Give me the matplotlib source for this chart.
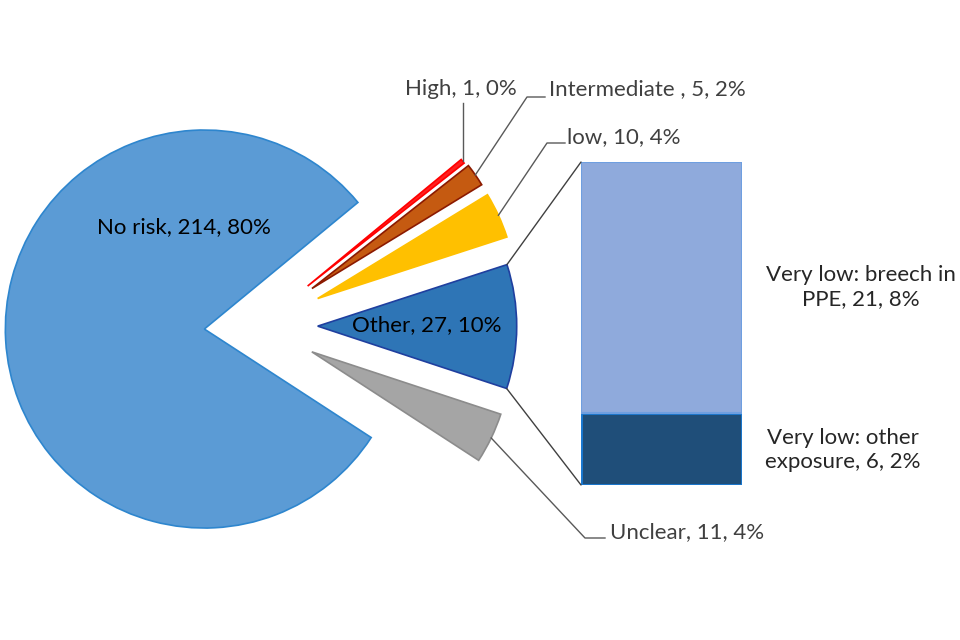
import textwrap

import matplotlib
matplotlib.use("Agg")
import matplotlib.pyplot as plt
import numpy as np
from matplotlib.patches import ConnectionPatch

plt.rcParams['font.family'] = ['Lato', 'DejaVu Sans']

# Data, in the pie's clockwise order
categories = ["High", "Intermediate ", "low", "Other", "Unclear", "No risk"]
counts = [1, 5, 10, 27, 11, 214]
bar_categories = ["Very low: breech in PPE", "Very low: other exposure"]
bar_counts = [21, 6]

colors = ['#FF2020', '#C55A11', '#FFC000', '#2E75B6', '#A5A5A5', '#5B9BD5']
edges = ['#FF0000', '#8B1A00', '#FFC000', '#1F3F9F', '#8C8C8C', '#2E86CE']
R = 199
explode = [f * R for f in [0.32, 0.33, 0.33, 0.30, 0.30, 0.27]]

total = sum(counts)
H = 640  # figure height in px, y flipped for placing text
FS = 16


def py(y):
    return H - y


def label(name, n):
    return f"{name}, {n}, {100 * n / total:.0f}%"


fig = plt.figure(figsize=(9.6, 6.4), dpi=100)
ax = fig.add_axes([0, 0, 1, 1])

wedges, _ = ax.pie(
    counts,
    explode=explode,
    colors=colors,
    startangle=39.5,
    counterclock=False,
    center=(258, py(326)),
    radius=R,
    wedgeprops=dict(linewidth=1.2),
)
for w, ec in zip(wedges, edges):
    w.set_edgecolor(ec)

ax.set_xlim(0, 960)
ax.set_ylim(0, H)
ax.set_aspect('equal')
ax.axis('off')

# Labels inside slices
ax.text(184, py(227), label(categories[5], counts[5]), ha='center', va='center',
        fontsize=FS, color='black')
ax.text(427, py(325), label(categories[3], counts[3]), ha='center', va='center',
        fontsize=FS, color='black')


def outer_mid(w):
    mid = np.radians((w.theta1 + w.theta2) / 2)
    cx, cy = w.center
    return cx + w.r * np.cos(mid), cy + w.r * np.sin(mid)


lead = dict(color='#595959', linewidth=1)

# High
tx, ty = outer_mid(wedges[0])
ax.plot([tx, tx], [ty, py(103)], **lead)
ax.text(461, py(89), label(categories[0], counts[0]), ha='center', va='center',
        fontsize=FS, color='#404040')

# Intermediate
tx, ty = outer_mid(wedges[1])
ax.plot([tx, 527, 545], [ty, py(97), py(97)], **lead)
ax.text(549, py(89), label(categories[1], counts[1]), ha='left', va='center',
        fontsize=FS, color='#404040')

# low
tx, ty = outer_mid(wedges[2])
ax.plot([tx, 547, 565], [ty, py(143), py(143)], **lead)
ax.text(567, py(137), label(categories[2], counts[2]), ha='left', va='center',
        fontsize=FS, color='#404040')

# Unclear
tx, ty = outer_mid(wedges[4])
ax.plot([tx, 585, 605], [ty, py(538), py(538)], **lead)
ax.text(610, py(532), label(categories[4], counts[4]), ha='left', va='center',
        fontsize=FS, color='#404040')

# Bar of the "Other" slice
bax = fig.add_axes([581 / 960, (H - 485) / H, 161 / 960, 323 / H])
bax.bar(0, bar_counts[1], width=1, color='#1F4E79', edgecolor='#1A7AD4',
        linewidth=2)
bax.bar(0, bar_counts[0], bottom=bar_counts[1], width=1, color='#8FAADC',
        edgecolor='#6F9FE0', linewidth=1.5)
bax.set_xlim(-0.5, 0.5)
bax.set_ylim(0, sum(bar_counts))
bax.axis('off')

bar_text_x = [861, 843]
bar_text_y = [py(287), py(450)]
for name, n, x, y in zip(bar_categories, bar_counts, bar_text_x, bar_text_y):
    ax.text(x, y, textwrap.fill(label(name, n), 19), ha='center', va='center',
            fontsize=FS, color='#262626', linespacing=1.3)

# Connector lines from Other slice to the bar (upper edge -> bar top)
other = wedges[3]
cx, cy = other.center
for theta, yb in [(other.theta2, sum(bar_counts)), (other.theta1, 0)]:
    t = np.radians(theta)
    corner = (cx + other.r * np.cos(t), cy + other.r * np.sin(t))
    con = ConnectionPatch(xyA=corner, coordsA=ax.transData,
                          xyB=(-0.5, yb), coordsB=bax.transData,
                          color='#404040', linewidth=1)
    fig.add_artist(con)

fig.savefig('out.png', dpi=100, facecolor='white')
